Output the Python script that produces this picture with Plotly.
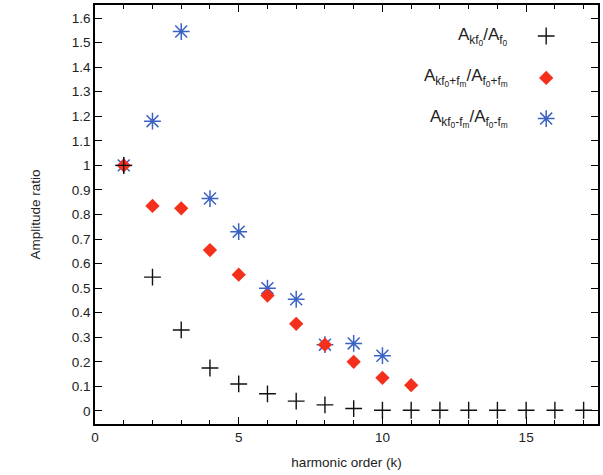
import plotly.graph_objects as go

k_f0 = list(range(1, 18))
ratio_f0 = [1.0, 0.545, 0.33, 0.175, 0.11, 0.07, 0.04, 0.025, 0.01, 0.003, 0.003,
            0.003, 0.003, 0.003, 0.003, 0.003, 0.003]
k_plus = list(range(1, 12))
ratio_plus = [1.0, 0.835, 0.825, 0.655, 0.555, 0.47, 0.355, 0.27, 0.2, 0.135, 0.105]
k_minus = list(range(1, 11))
ratio_minus = [1.0, 1.18, 1.545, 0.865, 0.73, 0.5, 0.455, 0.27, 0.275, 0.225]

labels = [
    "A<sub>kf<sub>0</sub></sub>/A<sub>f<sub>0</sub></sub>",
    "A<sub>kf<sub>0</sub>+f<sub>m</sub></sub>/A<sub>f<sub>0</sub>+f<sub>m</sub></sub>",
    "A<sub>kf<sub>0</sub>-f<sub>m</sub></sub>/A<sub>f<sub>0</sub>-f<sub>m</sub></sub>",
]
legend_rows = [0.926, 0.826, 0.729]

BLACK = "#111111"
RED = "#f4301c"
BLUE = "#3a62c4"

styles = [
    dict(symbol="cross-thin-open", size=12, line=dict(color=BLACK, width=1.4), color=BLACK),
    dict(symbol="diamond", size=11, color=RED, line=dict(width=0)),
    dict(symbol="asterisk-open", size=14, line=dict(color=BLUE, width=1.5), color=BLUE),
]

fig = go.Figure()
fig.add_trace(go.Scatter(x=k_minus, y=ratio_minus, mode="markers", marker=styles[2], showlegend=False))
fig.add_trace(go.Scatter(x=k_plus, y=ratio_plus, mode="markers", marker=styles[1], showlegend=False))
fig.add_trace(go.Scatter(x=k_f0, y=ratio_f0, mode="markers", marker=styles[0], showlegend=False))

for lab, yr, st in zip(labels, legend_rows, styles):
    fig.add_trace(go.Scatter(x=[0.897], y=[yr], xaxis="x2", yaxis="y2", mode="markers",
                             marker=st, showlegend=False, hoverinfo="skip"))
    fig.add_annotation(x=0.826, y=yr, xref="paper", yref="paper", text=lab,
                       showarrow=False, xanchor="right", yanchor="middle",
                       font=dict(size=17, color="#222222"))

axis_common = dict(
    showgrid=False, zeroline=False, showline=True, linecolor="black", linewidth=1.5,
    mirror="ticks", ticks="inside", ticklen=7, tickcolor="black", tickwidth=1,
    tickfont=dict(size=13.5, color="#222222"),
)

fig.update_layout(
    width=603, height=475,
    margin=dict(l=95, r=3, t=4, b=51),
    paper_bgcolor="white", plot_bgcolor="white",
    font=dict(family="Liberation Sans, Arial, sans-serif", size=13.5, color="#222222"),
    xaxis=dict(range=[0, 17.5], tickvals=[0, 5, 10, 15],
               minor=dict(dtick=1, ticks="inside", ticklen=4, tickcolor="black"),
               title=dict(text="harmonic order (k)", standoff=14, font=dict(size=13.5)),
               **axis_common),
    yaxis=dict(range=[-0.053, 1.653], dtick=0.1, tick0=0,
               title=dict(text="Amplitude ratio", standoff=28, font=dict(size=13.5)),
               **axis_common),
    xaxis2=dict(overlaying="x", range=[0, 1], visible=False, anchor="y2"),
    yaxis2=dict(overlaying="y", range=[0, 1], visible=False, anchor="x2"),
)

fig.write_html("out.html")
